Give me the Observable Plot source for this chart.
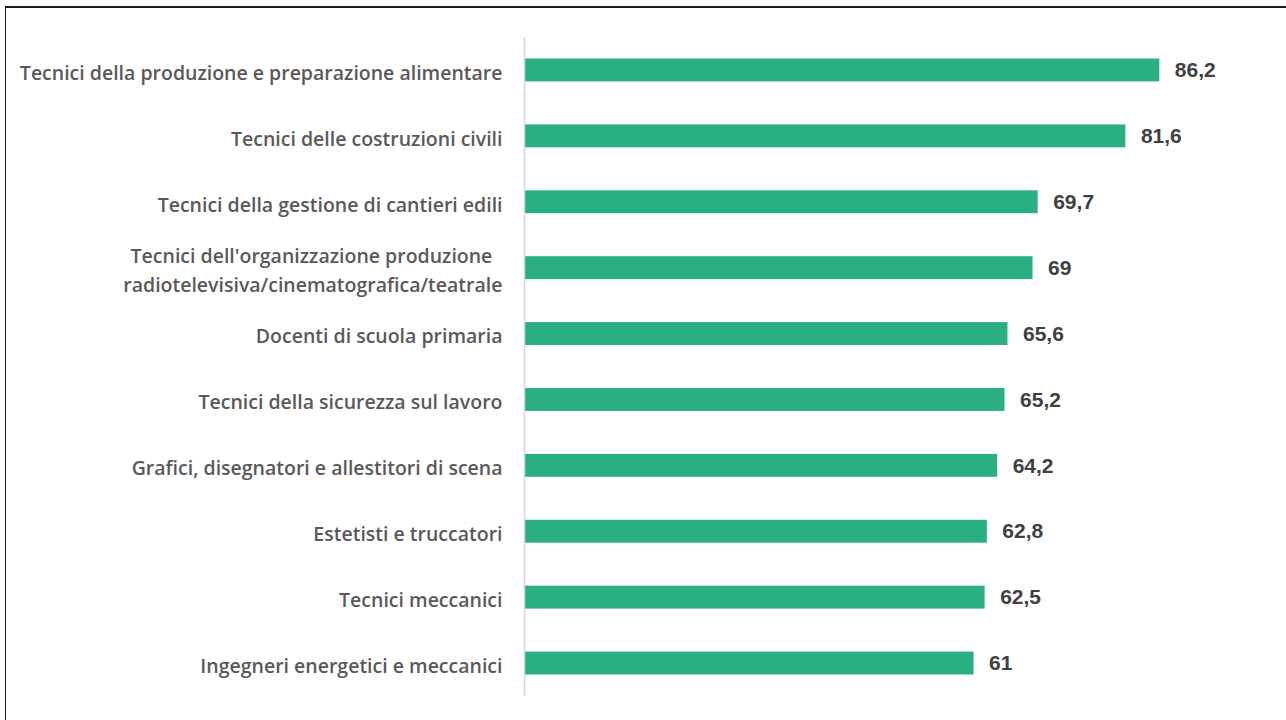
<!DOCTYPE html>
<html>
<head>
<meta charset="utf-8">
<script src="https://cdn.jsdelivr.net/npm/d3@7"></script>
<script src="https://cdn.jsdelivr.net/npm/@observablehq/plot@0.6"></script>
<style>
  html, body { margin: 0; padding: 0; background: #fff; width: 1286px; height: 720px; overflow: hidden; }
  #frame { position: absolute; left: 5px; top: 6px; width: 1300px; height: 730px; border-top: 2px solid #1a1a1a; border-left: 1.5px solid #1a1a1a; box-sizing: border-box; }
  #chart { position: absolute; left: 0; top: 0; }
</style>
</head>
<body>
<div id="frame"></div>
<div id="chart"></div>
<script>
const categories = [
  "Tecnici della produzione e preparazione alimentare",
  "Tecnici delle costruzioni civili",
  "Tecnici della gestione di cantieri edili",
  "Tecnici dell'organizzazione produzione\u00a0\u00a0\nradiotelevisiva/cinematografica/teatrale",
  "Docenti di scuola primaria",
  "Tecnici della sicurezza sul lavoro",
  "Grafici, disegnatori e allestitori di scena",
  "Estetisti e truccatori",
  "Tecnici meccanici",
  "Ingegneri energetici e meccanici"
];
const values = [86.2, 81.6, 69.7, 69, 65.6, 65.2, 64.2, 62.8, 62.5, 61];

const data = categories.map((c, i) => ({category: c, value: values[i]}));
const fmt = v => String(v).replace(".", ",");

const chart = Plot.plot({
  width: 1286,
  height: 720,
  marginTop: 37,
  marginBottom: 24,
  marginLeft: 524,
  marginRight: 25,
  x: {domain: [0, 100], axis: null},
  y: {domain: categories, padding: 0, round: false, axis: null},
  marks: [
    Plot.barX(data, {y: "category", x: "value", fill: "#2AAE84", insetTop: 21.5, insetBottom: 21.5}),
    Plot.ruleX([0], {stroke: "#d6d6d6", strokeWidth: 1.5}),
    Plot.text(data, {
      y: "category", x: 0, text: "category", dx: -22, textAnchor: "end",
      fill: "#595959", fontSize: 19.5, fontWeight: 600, fontFamily: "Open Sans", lineHeight: 1.5
    }),
    Plot.text(data, {
      y: "category", x: "value", text: d => fmt(d.value), dx: 15, textAnchor: "start",
      fill: "#404040", fontSize: 21, fontWeight: "bold", fontFamily: "Liberation Sans, Arial"
    })
  ]
});
document.getElementById("chart").appendChild(chart);
</script>
</body>
</html>
